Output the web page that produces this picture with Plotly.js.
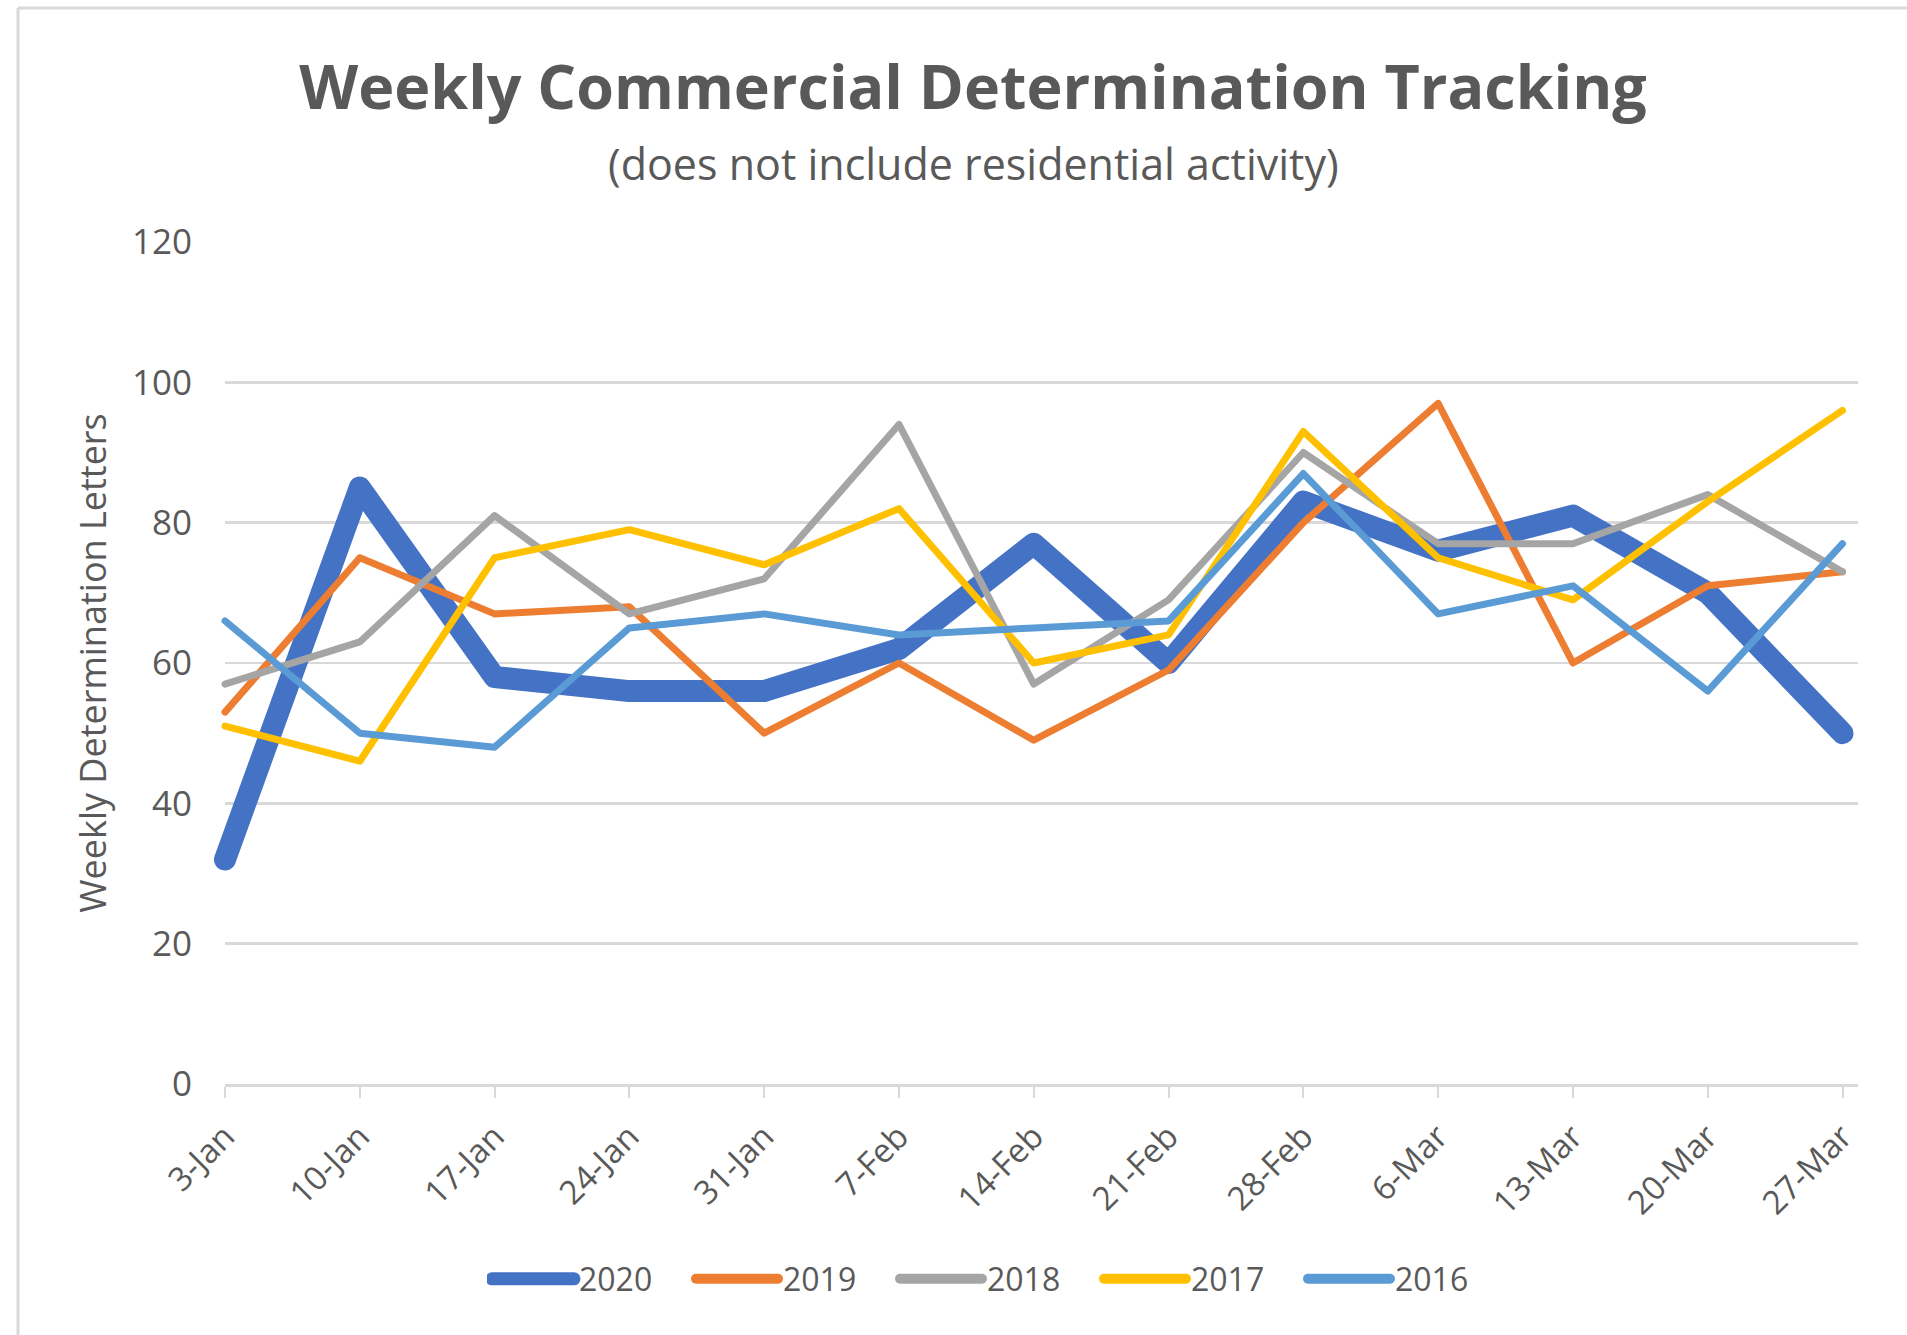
<!DOCTYPE html>
<html>
<head>
<meta charset="utf-8">
<script src="https://cdn.plot.ly/plotly-3.0.1.min.js"></script>
<style>
  html, body { margin: 0; padding: 0; background: #ffffff; }
  #chart { width: 1907px; height: 1335px; }
  .scatterlayer path.js-line { stroke-linejoin: round; stroke-linecap: round; }
  .cartesianlayer [clip-path] { clip-path: none !important; }
  .legend .legendlines path { stroke-linecap: round; stroke-width: 10px !important; }
  .legend .traces:nth-child(1) .legendlines path { stroke-width: 13px !important; }
</style>
</head>
<body>
<div id="chart"></div>
<script>
// ---- data ----
const weeks = ["3-Jan","10-Jan","17-Jan","24-Jan","31-Jan","7-Feb","14-Feb","21-Feb","28-Feb","6-Mar","13-Mar","20-Mar","27-Mar"];
const y2020 = [32, 85, 58, 56, 56, 62, 77, 60, 83, 76, 81, 70, 50];
const y2019 = [53, 75, 67, 68, 50, 60, 49, 59, 80, 97, 60, 71, 73];
const y2018 = [57, 63, 81, 67, 72, 94, 57, 69, 90, 77, 77, 84, 73];
const y2017 = [51, 46, 75, 79, 74, 82, 60, 64, 93, 75, 69, 83, 96];
const y2016 = [66, 50, 48, 65, 67, 64, 65, 66, 87, 67, 71, 56, 77];
const seriesNames = ["2020", "2019", "2018", "2017", "2016"];
const yTicks = [0, 20, 40, 60, 80, 100, 120];

const titleText = "Weekly Commercial Determination Tracking";
const subtitleText = "(does not include residential activity)";
const yTitleText = "Weekly Determination Letters";

// ---- styles ----
const colors = ["#4472C4", "#ED7D31", "#A5A5A5", "#FFC000", "#5B9BD5"];
const widths = [22, 7, 7, 7, 7];
const values = [y2020, y2019, y2018, y2017, y2016];
const FONT = "Open Sans, Lato, sans-serif";
const TXT = "#595959";

const traces = values.map((v, i) => ({
  type: "scatter",
  mode: "lines",
  name: seriesNames[i],
  x: weeks,
  y: v,
  line: { color: colors[i], width: widths[i] },
  hoverinfo: "x+y+name"
}));

const W = 1907, H = 1335;
const mL = 225, mR = 49, mT = 242, mB = 251;
const plotW = W - mL - mR, plotH = H - mT - mB;

const layout = {
  width: W,
  height: H,
  margin: { l: mL, r: mR, t: mT, b: mB },
  paper_bgcolor: "#ffffff",
  plot_bgcolor: "#ffffff",
  font: { family: FONT, color: TXT },
  showlegend: true,
  title: {
    text: "<b>" + titleText + "</b>",
    font: { family: FONT, size: 61, color: TXT },
    xref: "container",
    x: 973 / W,
    xanchor: "center",
    yref: "container",
    y: 1 - 88 / H,
    yanchor: "middle"
  },
  annotations: [{
    text: subtitleText,
    xref: "paper", yref: "paper",
    x: (973 - mL) / plotW,
    y: (H - mB - 163) / plotH,
    xanchor: "center", yanchor: "middle",
    showarrow: false,
    font: { family: FONT, size: 43, color: TXT }
  }],
  xaxis: {
    type: "category",
    range: [0, 12.115],
    tickmode: "array",
    tickvals: weeks,
    ticktext: weeks,
    tickangle: -45,
    ticks: "outside",
    ticklen: 11,
    tickwidth: 2,
    tickcolor: "#D9D9D9",
    ticklabelstandoff: 6,
    showline: true,
    linecolor: "#D9D9D9",
    linewidth: 3,
    showgrid: false,
    zeroline: false,
    tickfont: { family: FONT, size: 33, color: TXT },
    fixedrange: true
  },
  yaxis: {
    range: [0, 120],
    tickmode: "array",
    tickvals: yTicks,
    ticktext: yTicks.map(String),
    showgrid: true,
    gridcolor: "#D9D9D9",
    gridwidth: 2.5,
    zeroline: false,
    showline: false,
    ticks: "",
    ticklabelstandoff: 32,
    tickfont: { family: FONT, size: 35, color: TXT },
    title: {
      text: yTitleText,
      font: { family: FONT, size: 36, color: TXT },
      standoff: 14
    },
    fixedrange: true
  },
  legend: {
    orientation: "h",
    xref: "container",
    yref: "container",
    x: 997 / W,
    xanchor: "center",
    y: 1 - 1279 / H,
    yanchor: "middle",
    font: { family: FONT, size: 32, color: TXT },
    entrywidth: 107,
    entrywidthmode: "pixels",
    itemwidth: 82,
    tracegroupgap: 0,
    bgcolor: "rgba(0,0,0,0)"
  },
  shapes: [
    { type: "line", xref: "paper", yref: "paper",
      x0: (18 - mL) / plotW, x1: (18 - mL) / plotW,
      y0: (H - mB - H) / plotH, y1: (H - mB - 8) / plotH,
      line: { color: "#D9D9D9", width: 3 } },
    { type: "line", xref: "paper", yref: "paper",
      x0: (18 - mL) / plotW, x1: (W + 5 - mL) / plotW,
      y0: (H - mB - 8) / plotH, y1: (H - mB - 8) / plotH,
      line: { color: "#D9D9D9", width: 3 } }
  ]
};

Plotly.newPlot("chart", traces, layout, { displayModeBar: false, staticPlot: true });
</script>
</body>
</html>
